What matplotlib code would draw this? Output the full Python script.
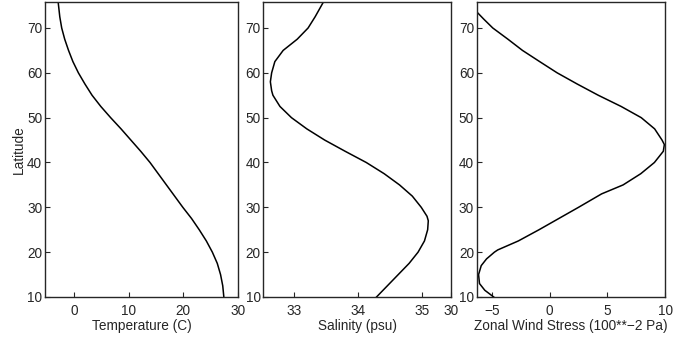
import matplotlib
matplotlib.use('Agg')
import matplotlib.pyplot as plt

# latitude profiles
temp_lat = [75.8, 72.5, 70, 67.5, 65, 62.5, 60, 57.5, 55, 52.5, 50, 47.5, 45,
            42.5, 40, 37.5, 35, 32.5, 30, 27.5, 25, 22.5, 20, 17.5, 15, 12.5, 10]
temp_val = [-2.9, -2.6, -2.25, -1.7, -1.0, -0.2, 0.8, 2.0, 3.3, 4.9, 6.7, 8.6, 10.4,
            12.2, 13.9, 15.4, 16.9, 18.4, 19.9, 21.5, 22.9, 24.2, 25.3, 26.2, 26.8, 27.2, 27.4]

salt_lat = [75.8, 72.5, 70, 67.5, 65, 62.5, 60, 58, 56, 55, 52.5, 50, 47.5, 45,
            42.5, 40, 37.5, 35, 32.5, 30, 28, 27, 25, 22.5, 20, 17.5, 15, 12.5, 10]
salt_val = [33.46, 33.33, 33.22, 33.05, 32.83, 32.70, 32.65, 32.63, 32.65, 32.67, 32.78,
            32.96, 33.20, 33.48, 33.80, 34.13, 34.41, 34.65, 34.85, 34.99, 35.08, 35.10,
            35.09, 35.04, 34.94, 34.80, 34.63, 34.46, 34.29]

wind_lat = [73.6, 72, 70, 67.5, 65, 62.5, 60, 57.5, 55, 52.5, 50, 47.5, 45, 44,
            42.5, 40, 37.5, 35, 33, 30, 27.5, 25, 22.5, 20.5, 20, 18.5, 17, 15, 13, 11.5, 10]
wind_val = [-6.3, -5.7, -4.91, -3.6, -2.34, -0.85, 0.66, 2.4, 4.22, 6.2, 7.94, 9.1,
            9.74, 9.94, 9.85, 9.08, 7.9, 6.37, 4.51, 2.51, 0.8, -0.91, -2.7, -4.48,
            -4.77, -5.45, -5.91, -6.14, -6.06, -5.6, -4.83]

temp_ticks = [0, 10, 20, 30]
salt_ticks = [33, 34, 35]
wind_ticks = [-5, 0, 5, 10]
lat_ticks = [10, 20, 30, 40, 50, 60, 70]

plt.rcParams['font.family'] = ['Liberation Sans', 'DejaVu Sans']
plt.rcParams['font.size'] = 9.8
ink = '#262626'

fig = plt.figure(figsize=(6.74, 3.37), dpi=100)
bottom, height = 0.1187, 0.8754
ax1 = fig.add_axes([0.0668, bottom, 0.2864, height])
ax2 = fig.add_axes([0.3907, bottom, 0.2789, height])
ax3 = fig.add_axes([0.7073, bottom, 0.2794, height])

ax1.plot(temp_val, temp_lat, color='k', lw=1.1)
ax1.set_xlim(-5.3, 30)
ax1.set_xticks(temp_ticks)
ax1.set_xlabel('Temperature (C)', labelpad=1)
ax1.set_ylabel('Latitude', labelpad=1)

ax2.plot(salt_val, salt_lat, color='k', lw=1.1)
ax2.set_xlim(32.52, 35.46)
# the reference also shows a stray "30" at the right end of this axis
ax2.set_xticks(salt_ticks + [35.46])
ax2.set_xticklabels([str(t) for t in salt_ticks] + ['30'])
ax2.set_xlabel('Salinity (psu)', labelpad=1)

ax3.plot(wind_val, wind_lat, color='k', lw=1.1)
ax3.set_xlim(-6.3, 10)
ax3.set_xticks(wind_ticks)
ax3.set_xticklabels(['\u22125', '0', '5', '10'])
ax3.set_xlabel('Zonal Wind Stress (100**\u22122 Pa)', labelpad=1)

for ax in (ax1, ax2, ax3):
    ax.set_ylim(10, 75.8)
    ax.set_yticks(lat_ticks)
    ax.tick_params(direction='in', length=3.5, width=0.8, colors=ink,
                   labelcolor=ink, pad=2)
    ax.tick_params(axis='x', pad=5)
    for s in ax.spines.values():
        s.set_color(ink)
        s.set_linewidth(1.0)
    ax.xaxis.label.set_color(ink)
    ax.yaxis.label.set_color(ink)

fig.savefig('out.png', dpi=100)
